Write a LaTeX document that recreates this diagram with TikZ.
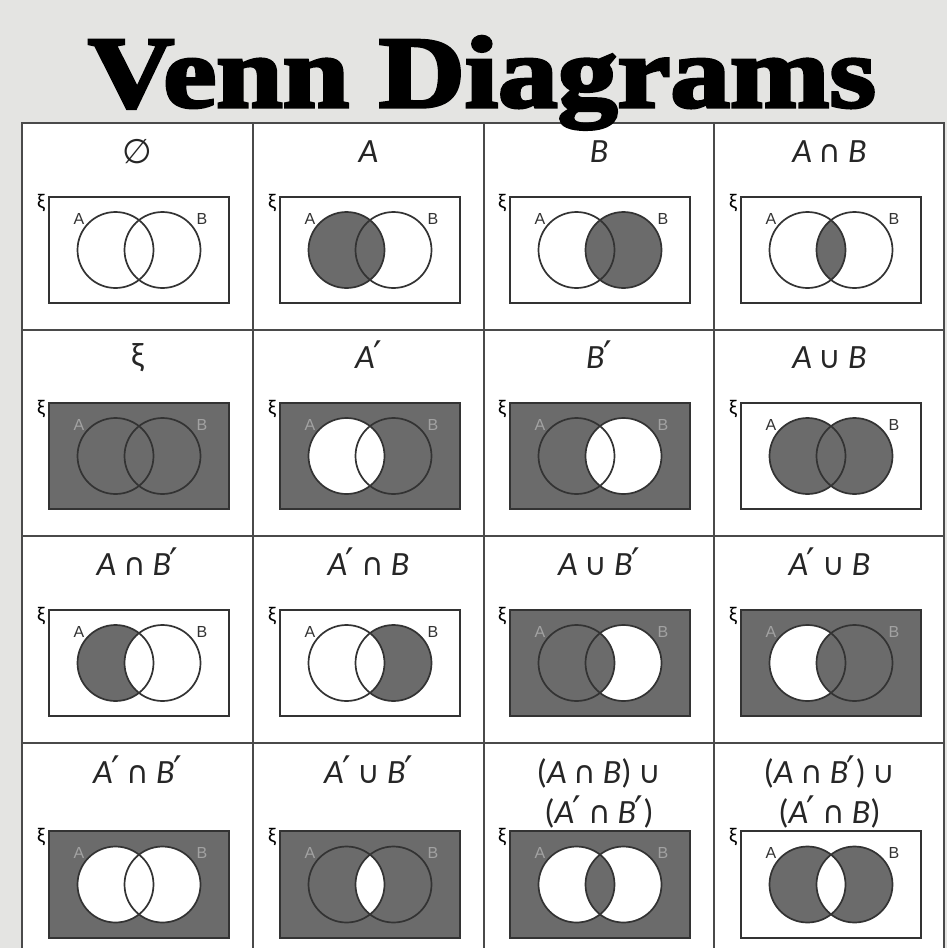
\documentclass[tikz,border=0pt]{standalone}
\usepackage{fontspec}
\setmainfont{Carlito}
\newfontfamily\titlefont{Liberation Serif Bold}[FakeBold=3]
\newfontfamily\labfont{Carlito}
\newfontfamily\symfont{DejaVu Sans}
\newfontfamily\sansf{Liberation Sans}

\definecolor{bg}{HTML}{E4E4E2}
\definecolor{shd}{HTML}{6B6B6B}
\definecolor{ink}{HTML}{333333}
\definecolor{gridc}{HTML}{4A4A4A}
\definecolor{ghost}{HTML}{A2A2A2}

\tikzset{
 sh/.style={fill=shd},
 wh/.style={fill=white},
 circ/.style={draw=ink, line width=1.7pt},
 urect/.style={draw=ink, line width=2pt},
 setlab/.style={font=\sansf\fontsize{16}{16}\selectfont, inner sep=0pt},
 xilab/.style={font=\labfont\fontsize{21}{21}\selectfont, inner sep=0pt},
 head/.style={font=\labfont\fontsize{34}{40}\selectfont, anchor=base, inner sep=0pt, text=black!85},
 gridline/.style={draw=gridc, line width=2pt},
}

\newcommand\sA{\textit{A}}
\newcommand\sB{\textit{B}}
\newcommand\pr{\kern-1.5pt{\symfont\fontsize{38}{38}\selectfont ′}}
\newcommand\opcap{\hspace{0.2em}{\symfont\fontsize{31}{31}\selectfont ∩}\hspace{0.2em}}
\newcommand\opcup{\hspace{0.2em}{\symfont\fontsize{31}{31}\selectfont ∪}\hspace{0.2em}}

% #1 id, #2 x, #3 y, #4 height, #5 shading, #6 label colour
\newcommand\venncell[6]{%
 \begin{scope}[shift={(#2,#3)}]
  \def\vh{#4}
  \pgfmathsetmacro\vc{#4/2}
  \def\pR{(0,0) rectangle (180,\vh)}
  \def\pA{(66.5,\vc) circle[radius=38]}
  \def\pB{(113.5,\vc) circle[radius=38]}
  #5
  \draw[urect] \pR;
  \draw[circ] \pA;
  \draw[circ] \pB;
  \node[setlab, text=#6] (la#1) at (30,22) {A};
  \node[setlab, text=#6] (lb#1) at (153,22) {B};
  \node[xilab] (lx#1) at (-8,6) {ξ};
 \end{scope}}

\begin{document}
\begin{tikzpicture}[x=1pt, y=-1pt]
\useasboundingbox (0,0) rectangle (947,948);
\clip (0,0) rectangle (947,948);
\fill[bg] (0,0) rectangle (947,948);

% table
\fill[white] (22,123) rectangle (944,960);
\draw[gridline] (22,960) -- (22,123) -- (944,123) -- (944,960);
\foreach \gx in {253,484,714} \draw[gridline] (\gx,123) -- (\gx,960);
\foreach \gy in {329.5,536,742.5} \draw[gridline] (22,\gy) -- (944,\gy);

% headers
\node[head] (h1) at (137.5,163) {{\symfont\fontsize{34}{34}\selectfont ∅}};
\node[head] (h2) at (368.5,162) {\sA};
\node[head] (h3) at (599,162) {\sB};
\node[head] (h4) at (829.5,162) {\sA\opcap\sB};
\node[head] (h5) at (137.5,366) {ξ};
\node[head] (h6) at (368.5,368) {\sA\pr};
\node[head] (h7) at (599,368) {\sB\pr};
\node[head] (h8) at (829.5,368) {\sA\opcup\sB};
\node[head] (h9) at (137.5,575) {\sA\opcap\sB\pr};
\node[head] (h10) at (368.5,575) {\sA\pr\opcap\sB};
\node[head] (h11) at (599,575) {\sA\opcup\sB\pr};
\node[head] (h12) at (829.5,575) {\sA\pr\opcup\sB};
\node[head] (h13) at (137.5,783) {\sA\pr\opcap\sB\pr};
\node[head] (h14) at (368.5,783) {\sA\pr\opcup\sB\pr};
\node[head] (h15a) at (599,783) {(\sA\opcap\sB)\opcup};
\node[head] (h15b) at (599,823) {(\sA\pr\opcap\sB\pr)};
\node[head] (h16a) at (829.5,783) {(\sA\opcap\sB\pr)\opcup};
\node[head] (h16b) at (829.5,823) {(\sA\pr\opcap\sB)};

% row 1
\venncell{1}{49}{197}{106}{}{ink}
\venncell{2}{280}{197}{106}{\fill[sh] \pA;}{ink}
\venncell{3}{510}{197}{106}{\fill[sh] \pB;}{ink}
\venncell{4}{741}{197}{106}{\begin{scope}\clip \pA; \fill[sh] \pB; \end{scope}}{ink}
% row 2
\venncell{5}{49}{403}{106}{\fill[sh] \pR;}{ghost}
\venncell{6}{280}{403}{106}{\fill[sh] \pR; \fill[wh] \pA;}{ghost}
\venncell{7}{510}{403}{106}{\fill[sh] \pR; \fill[wh] \pB;}{ghost}
\venncell{8}{741}{403}{106}{\fill[sh] \pA; \fill[sh] \pB;}{ink}
% row 3
\venncell{9}{49}{610}{106}{\fill[sh] \pA; \fill[wh] \pB;}{ink}
\venncell{10}{280}{610}{106}{\fill[sh] \pB; \fill[wh] \pA;}{ink}
\venncell{11}{510}{610}{106}{\fill[sh] \pR; \fill[wh] \pB; \fill[sh] \pA;}{ghost}
\venncell{12}{741}{610}{106}{\fill[sh] \pR; \fill[wh] \pA; \fill[sh] \pB;}{ghost}
% row 4
\venncell{13}{49}{831}{107}{\fill[sh] \pR; \fill[wh] \pA; \fill[wh] \pB;}{ghost}
\venncell{14}{280}{831}{107}{\fill[sh] \pR; \begin{scope}\clip \pA; \fill[wh] \pB; \end{scope}}{ghost}
\venncell{15}{510}{831}{107}{\fill[sh] \pR; \fill[wh] \pA; \fill[wh] \pB; \begin{scope}\clip \pA; \fill[sh] \pB; \end{scope}}{ghost}
\venncell{16}{741}{831}{107}{\fill[sh, even odd rule] \pA \pB;}{ink}

% title
\node[font=\titlefont\fontsize{102}{102}\selectfont, anchor=base, inner sep=0pt] (title) at (482,107) {\scalebox{1.17}[1]{Venn Diagrams}};
\end{tikzpicture}
\end{document}
